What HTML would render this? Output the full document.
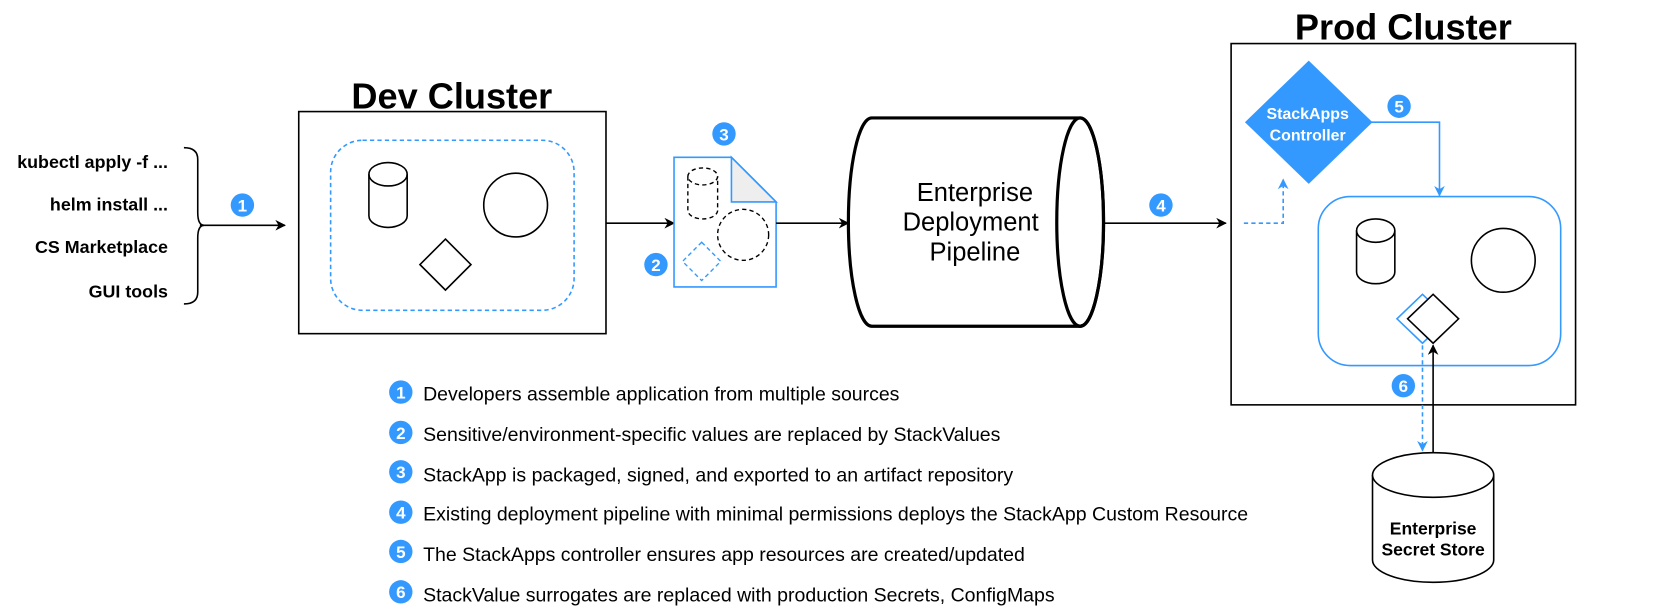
<!DOCTYPE html>
<html><head><meta charset="utf-8"><style>
html,body{margin:0;padding:0;background:#fff;}
svg{display:block;}
text{font-family:"Liberation Sans",Arial,sans-serif;}
</style></head><body>
<svg width="1667" height="611" viewBox="0 0 1568 575" preserveAspectRatio="none" xmlns="http://www.w3.org/2000/svg">
<defs>
<marker id="ab" markerWidth="10" markerHeight="10" refX="9" refY="5" orient="auto" markerUnits="userSpaceOnUse"><path d="M0,0 L10,5 L0,10 L3,5 Z" fill="#000"/></marker>
<marker id="abl" markerWidth="10" markerHeight="10" refX="9" refY="5" orient="auto" markerUnits="userSpaceOnUse"><path d="M0,0 L10,5 L0,10 L3,5 Z" fill="#3399ff"/></marker>
</defs>
<g font-weight="bold" font-size="16.8" text-anchor="end" fill="#000">
<text x="158" y="158">kubectl apply -f ...</text>
<text x="158" y="198">helm install ...</text>
<text x="158" y="238">CS Marketplace</text>
<text x="158" y="280">GUI tools</text>
</g>
<path d="M173,139 Q186,139 186,150 L186,200 Q186,212 192,212 Q186,212 186,224 L186,275 Q186,286 173,286" fill="none" stroke="#000" stroke-width="1.5"/>
<line x1="188" y1="212" x2="268" y2="212" stroke="#000" stroke-width="1.5" marker-end="url(#ab)"/>
<text x="425" y="102" font-size="34" font-weight="bold" text-anchor="middle">Dev Cluster</text>
<rect x="281" y="105" width="289" height="209" fill="none" stroke="#000" stroke-width="1.5"/>
<rect x="311" y="132" width="229" height="160" rx="30" fill="none" stroke="#3399ff" stroke-width="1.5" stroke-dasharray="4,3"/>
<path d="M347,164 L347,203 A18,11 0 0 0 383,203 L383,164" fill="none" stroke="#000" stroke-width="1.5"/>
<ellipse cx="365" cy="164" rx="18" ry="11" fill="none" stroke="#000" stroke-width="1.5"/>
<circle cx="485" cy="193" r="30" fill="none" stroke="#000" stroke-width="1.5"/>
<path d="M419,225 L443,249 L419,273 L395,249 Z" fill="none" stroke="#000" stroke-width="1.5"/>
<line x1="570" y1="210" x2="634" y2="210" stroke="#000" stroke-width="1.5" marker-end="url(#ab)"/>
<path d="M634,148 L688,148 L730,190 L730,270 L634,270 Z" fill="#fff" stroke="#3399ff" stroke-width="1.5"/>
<path d="M688,148 L688,190 L730,190 Z" fill="#eeeeee" stroke="#3399ff" stroke-width="1.5"/>
<path d="M647,166 L647,198 A14,8 0 0 0 675,198 L675,166" fill="none" stroke="#000" stroke-width="1.3" stroke-dasharray="4,3"/>
<ellipse cx="661" cy="166" rx="14" ry="8" fill="none" stroke="#000" stroke-width="1.3" stroke-dasharray="4,3"/>
<circle cx="699" cy="221" r="24" fill="none" stroke="#000" stroke-width="1.3" stroke-dasharray="4,3"/>
<path d="M660,228 L678,246 L660,264 L642,246 Z" fill="none" stroke="#3399ff" stroke-width="1.3" stroke-dasharray="4,3"/>
<line x1="730" y1="210" x2="798" y2="210" stroke="#000" stroke-width="1.5" marker-end="url(#ab)"/>
<path d="M820,111 L1016,111 A22,98 0 0 1 1016,307 L820,307 A22,98 0 0 1 820,111 Z" fill="#fff" stroke="#000" stroke-width="3"/>
<ellipse cx="1016" cy="209" rx="22" ry="98" fill="none" stroke="#000" stroke-width="3"/>
<g font-size="24" text-anchor="middle">
<text x="917" y="189">Enterprise</text>
<text x="913" y="217">Deployment</text>
<text x="917" y="245">Pipeline</text>
</g>
<line x1="1038" y1="210" x2="1153" y2="210" stroke="#000" stroke-width="1.5" marker-end="url(#ab)"/>
<text x="1320" y="37" font-size="34" font-weight="bold" text-anchor="middle">Prod Cluster</text>
<rect x="1158" y="41" width="324" height="340" fill="none" stroke="#000" stroke-width="1.5"/>
<path d="M1231,57 L1291,115 L1231,173 L1171,115 Z" fill="#3399ff"/>
<g font-size="15" font-weight="bold" fill="#fff" text-anchor="middle">
<text x="1230" y="112">StackApps</text>
<text x="1230" y="132">Controller</text>
</g>
<path d="M1170,210 L1207,210 L1207,169" fill="none" stroke="#3399ff" stroke-width="1.5" stroke-dasharray="4,3" marker-end="url(#abl)"/>
<path d="M1290,115 L1354,115 L1354,184" fill="none" stroke="#3399ff" stroke-width="1.5" marker-end="url(#abl)"/>
<rect x="1240" y="185" width="228" height="159" rx="30" fill="none" stroke="#3399ff" stroke-width="1.5"/>
<path d="M1276,217 L1276,256 A18,11 0 0 0 1312,256 L1312,217" fill="none" stroke="#000" stroke-width="1.5"/>
<ellipse cx="1294" cy="217" rx="18" ry="11" fill="none" stroke="#000" stroke-width="1.5"/>
<circle cx="1414" cy="245" r="30" fill="none" stroke="#000" stroke-width="1.5"/>
<path d="M1338,277 L1362,300 L1338,323 L1314,300 Z" fill="#fff" stroke="#3399ff" stroke-width="1.5"/>
<path d="M1348,277 L1372,300 L1348,323 L1324,300 Z" fill="#fff" stroke="#000" stroke-width="1.5"/>
<line x1="1348" y1="426" x2="1348" y2="325" stroke="#000" stroke-width="1.5" marker-end="url(#ab)"/>
<line x1="1338" y1="325" x2="1338" y2="424" stroke="#3399ff" stroke-width="1.5" stroke-dasharray="4,3" marker-end="url(#abl)"/>
<path d="M1291,447 L1291,527 A57,21 0 0 0 1405,527 L1405,447" fill="#fff" stroke="#000" stroke-width="1.5"/>
<ellipse cx="1348" cy="447" rx="57" ry="21" fill="#fff" stroke="#000" stroke-width="1.5"/>
<g font-size="16.5" font-weight="bold" text-anchor="middle">
<text x="1348" y="503">Enterprise</text>
<text x="1348" y="523">Secret Store</text>
</g>
<g font-size="16" font-weight="bold" fill="#fff" text-anchor="middle">
<circle cx="228" cy="193" r="11" fill="#3399ff"/><text x="228" y="199">1</text>
<circle cx="617" cy="249" r="11" fill="#3399ff"/><text x="617" y="255">2</text>
<circle cx="681" cy="126" r="11" fill="#3399ff"/><text x="681" y="132">3</text>
<circle cx="1092" cy="193" r="11" fill="#3399ff"/><text x="1092" y="199">4</text>
<circle cx="1316" cy="100" r="11" fill="#3399ff"/><text x="1316" y="106">5</text>
<circle cx="1320" cy="363" r="11" fill="#3399ff"/><text x="1320" y="369">6</text>
<circle cx="377" cy="369" r="11" fill="#3399ff"/><text x="377" y="375">1</text>
<circle cx="377" cy="407" r="11" fill="#3399ff"/><text x="377" y="413">2</text>
<circle cx="377" cy="444" r="11" fill="#3399ff"/><text x="377" y="450">3</text>
<circle cx="377" cy="482" r="11" fill="#3399ff"/><text x="377" y="488">4</text>
<circle cx="377" cy="519" r="11" fill="#3399ff"/><text x="377" y="525">5</text>
<circle cx="377" cy="557" r="11" fill="#3399ff"/><text x="377" y="563">6</text>
</g>
<g font-size="18.2" fill="#000">
<text x="398" y="377" textLength="448" lengthAdjust="spacingAndGlyphs">Developers assemble application from multiple sources</text>
<text x="398" y="415" textLength="543" lengthAdjust="spacingAndGlyphs">Sensitive/environment-specific values are replaced by StackValues</text>
<text x="398" y="453" textLength="555" lengthAdjust="spacingAndGlyphs">StackApp is packaged, signed, and exported to an artifact repository</text>
<text x="398" y="490" textLength="776" lengthAdjust="spacingAndGlyphs">Existing deployment pipeline with minimal permissions deploys the StackApp Custom Resource</text>
<text x="398" y="528" textLength="566" lengthAdjust="spacingAndGlyphs">The StackApps controller ensures app resources are created/updated</text>
<text x="398" y="566" textLength="594" lengthAdjust="spacingAndGlyphs">StackValue surrogates are replaced with production Secrets, ConfigMaps</text>
</g>
</svg>
</body></html>
